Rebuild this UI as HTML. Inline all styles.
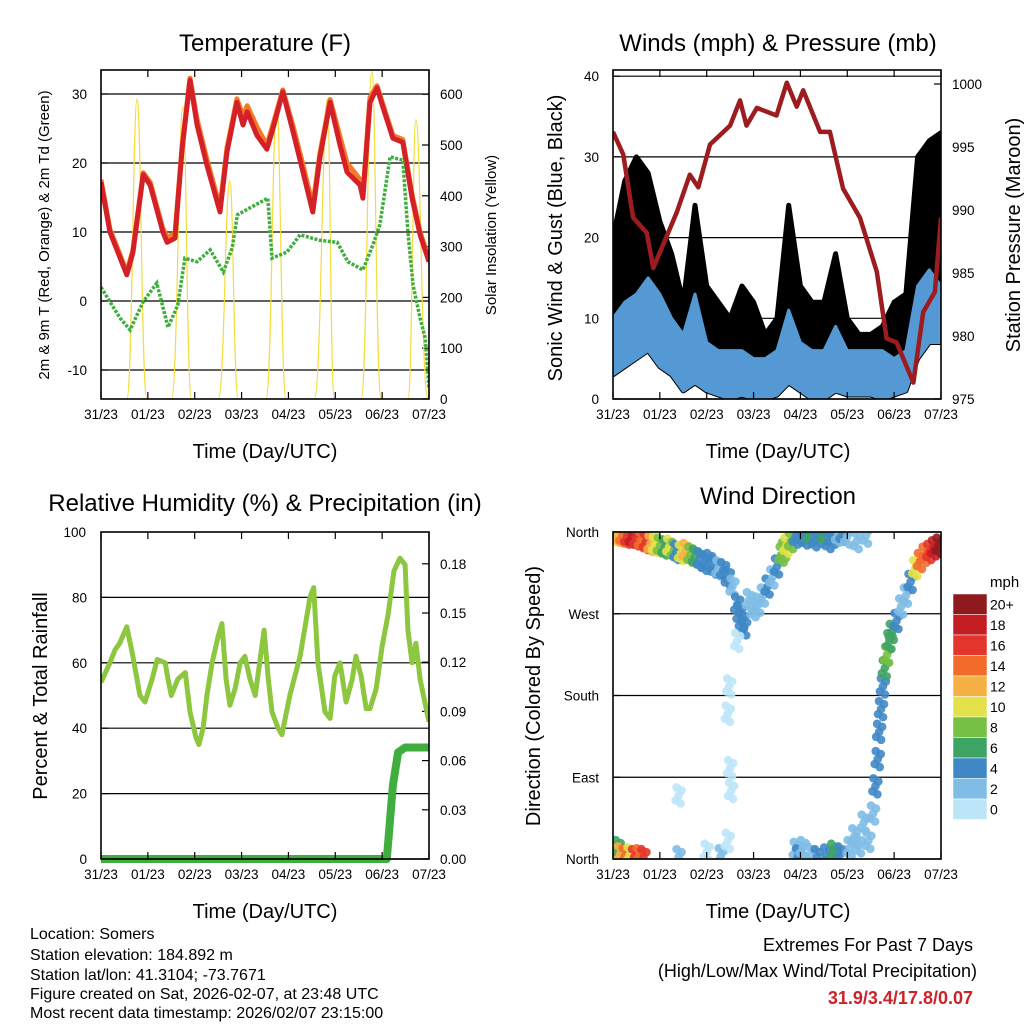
<!DOCTYPE html>
<html><head><meta charset="utf-8"><style>
html,body{margin:0;padding:0;background:#fff}
svg{display:block;font-family:"Liberation Sans",sans-serif}
</style></head><body>
<svg id="c" width="1024" height="1024" viewBox="0 0 1024 1024">
<rect x="0" y="0" width="1024" height="1024" fill="#fff"/>
<g id="plots"></g>
<text x="265" y="51" font-size="24" text-anchor="middle">Temperature (F)</text>
<text x="778" y="51" font-size="24" text-anchor="middle">Winds (mph) &amp; Pressure (mb)</text>
<text x="265" y="511" font-size="24" text-anchor="middle">Relative Humidity (%) &amp; Precipitation (in)</text>
<text x="778" y="504" font-size="24" text-anchor="middle">Wind Direction</text>
<text x="265" y="458" font-size="20" text-anchor="middle">Time (Day/UTC)</text>
<text x="778" y="458" font-size="20" text-anchor="middle">Time (Day/UTC)</text>
<text x="265" y="918" font-size="20" text-anchor="middle">Time (Day/UTC)</text>
<text x="778" y="918" font-size="20" text-anchor="middle">Time (Day/UTC)</text>
<text transform="translate(49,235) rotate(-90)" font-size="15" text-anchor="middle">2m &amp; 9m T (Red, Orange) &amp; 2m Td (Green)</text>
<text transform="translate(496,235) rotate(-90)" font-size="15" text-anchor="middle">Solar Insolation (Yellow)</text>
<text transform="translate(562,238) rotate(-90)" font-size="20" text-anchor="middle">Sonic Wind &amp; Gust (Blue, Black)</text>
<text transform="translate(1020,235) rotate(-90)" font-size="20" text-anchor="middle">Station Pressure (Maroon)</text>
<text transform="translate(47,696) rotate(-90)" font-size="20" text-anchor="middle">Percent &amp; Total Rainfall</text>
<text transform="translate(540,696) rotate(-90)" font-size="20" text-anchor="middle">Direction (Colored By Speed)</text>
<text x="990" y="587" font-size="15" text-anchor="start">mph</text>
<g font-size="16">
<text x="30" y="939">Location: Somers</text>
<text x="30" y="960">Station elevation: 184.892 m</text>
<text x="30" y="980">Station lat/lon: 41.3104; -73.7671</text>
<text x="30" y="999">Figure created on Sat, 2026-02-07, at 23:48 UTC</text>
<text x="30" y="1018">Most recent data timestamp: 2026/02/07 23:15:00</text>
</g>
<text x="973" y="951" font-size="18" text-anchor="end">Extremes For Past 7 Days</text>
<text x="977" y="977" font-size="18" text-anchor="end">(High/Low/Max Wind/Total Precipitation)</text>
<text x="973" y="1004" font-size="18" font-weight="bold" fill="#cc2229" text-anchor="end">31.9/3.4/17.8/0.07</text>
</svg>
<script>
const dayLabels=["31/23","01/23","02/23","03/23","04/23","05/23","06/23","07/23"];
// Temperature
const tTime=[0,0.19,0.55,0.68,0.90,1.05,1.32,1.41,1.58,1.73,1.90,2.05,2.26,2.54,2.69,2.90,3.03,3.12,3.33,3.54,3.67,3.88,4.10,4.31,4.52,4.67,4.89,5.10,5.25,5.53,5.59,5.74,5.89,6.02,6.23,6.44,6.64,6.81,7.0];
const tRed=[17.2,10,3.8,7,18.3,16.8,10,8.5,9.1,22,32,25.5,19.7,12.9,21.6,28.8,25.5,27.4,24,22,25,30.3,24.5,18.7,12.9,20.7,28.8,22.6,18.7,16.8,14.9,28.8,30.9,28,23.6,23,14.9,9.6,5.7];
const tOrange=[17.6,10.4,4.2,7.4,18.6,17.2,10.5,9.2,9.8,22.5,32.3,26.3,20.5,13.6,22.2,29.3,26.8,28.3,25.2,22.6,25.6,30.6,25.3,19.7,13.8,21.3,29.2,23.8,20,17.6,15.6,29.5,31.2,28.4,24,23.4,15.4,10,6];
const dTime=[0,0.19,0.41,0.62,0.90,1.19,1.43,1.64,1.79,2.05,2.33,2.61,2.80,2.91,3.18,3.56,3.65,3.97,4.25,4.67,5.04,5.27,5.59,5.80,5.95,6.17,6.44,6.55,6.66,6.81,6.92,7.0];
const dewVals=[2.0,-0.1,-2.5,-4.2,-0.1,2.6,-3.8,-0.6,6.2,5.7,7.4,4.2,7.7,12.5,13.5,14.9,6.2,7.1,9.6,8.8,8.5,5.7,4.5,8.1,11,20.9,20.4,10,2.3,-2.5,-5.4,-12.6];
const solarStart=[0.55,1.5,2.5,3.52,4.55,5.55,6.55];
const solarPeakT=[0.77,1.75,2.75,3.75,4.83,5.78,6.72];
const solarPeak=[590,575,430,580,590,645,550];
// Winds
const wTime=[0,0.25,0.5,0.75,1,1.25,1.5,1.75,2,2.25,2.5,2.75,3,3.25,3.5,3.75,4,4.25,4.5,4.75,5,5.25,5.5,5.75,6,6.25,6.5,6.75,7];
const gustTop=[20,27,30,28,22,18,12,24,14,12,10,14,12,8,10,24,14,12,12,18,10,8,8,9,12,13,30,32,33];
const blueHi=[10,12,13,15,13,10,8,13,7,6,6,6,5,5,6,11,7,6,6,9,6,6,6,6,5,6,14,16,14];
const blueLo=[3,4,5,6,4,3,1,2,1,0.5,0,0.5,0,0,0.5,2,1,0,0,1,0.5,0.5,0.5,0,0.5,1,5,7,7];
const pTime=[0,0.22,0.43,0.72,0.86,1.36,1.64,1.82,2.07,2.5,2.71,2.85,3.07,3.49,3.71,3.92,4.06,4.42,4.63,4.91,5.27,5.63,5.84,6.05,6.41,6.62,6.87,7.0];
const pVals=[996.2,994.4,989.4,988.2,985.4,989.8,992.8,991.8,995.2,996.7,998.7,996.7,998.1,997.5,1000.1,998.2,999.5,996.2,996.2,991.7,989.4,985.1,979.8,979.5,976.3,981.9,983.5,989.4];
// RH & rain
const rhTime=[0,0.19,0.3,0.4,0.55,0.68,0.83,0.94,1.09,1.20,1.37,1.43,1.50,1.64,1.80,1.90,2.03,2.09,2.18,2.26,2.37,2.50,2.58,2.67,2.75,2.86,2.97,3.07,3.18,3.29,3.48,3.57,3.65,3.78,3.86,4.03,4.25,4.46,4.54,4.63,4.78,4.89,4.99,5.10,5.23,5.36,5.44,5.55,5.66,5.74,5.87,6.0,6.13,6.25,6.38,6.49,6.55,6.64,6.72,6.81,6.91,7.0];
const rhVals=[54,60,64,66,71,62,50,48,55,61,60,55,50,55,57,45,37,35,40,50,60,68,72,55,47,52,60,62,55,50,70,55,45,40,38,50,62,80,83,60,45,43,56,60,48,55,62,56,46,46,52,65,75,88,92,90,70,60,66,55,48,42];
const rainTime=[0,6.1,6.23,6.34,6.49,7.0];
const rainVals=[0,0,0.045,0.065,0.068,0.068];
// Wind direction scatter
const wdTime=[0.0,0.1,0.2,0.3,0.4,0.5,0.6,0.7,0.8,0.9,1.0,1.1,1.2,1.3,1.35,1.45,1.55,1.65,1.75,1.85,1.95,2.05,2.15,2.25,2.35,2.45,2.55,2.65,2.7,2.75,2.8,2.9,3.0,3.1,3.2,3.3,3.4,3.5,3.6,3.65,3.7,3.8,3.9,4.0,4.1,4.2,4.3,4.4,4.5,4.6,4.7,4.8,4.9,5.0,5.2,5.4,2.45,2.48,2.5,2.52,1.4,2.65,0.0,0.1,0.15,0.25,0.35,0.45,0.55,0.65,1.4,2.0,2.3,2.45,3.9,3.95,4.05,4.2,4.35,4.55,4.7,4.75,4.85,5.05,5.15,5.25,5.35,5.45,5.55,5.6,5.65,5.68,5.72,5.76,5.8,5.85,5.9,5.95,6.05,6.15,6.25,6.35,6.45,6.55,6.65,6.75,6.85,6.95];
const wdDir=[358,357,356,355,355,353,351,349,347,346,345,343,344,340,338,337,339,335,333,330,326,328,322,320,318,310,300,280,270,262,255,285,275,280,290,300,310,322,335,340,345,350,355,357,354,358,352,356,358,350,355,357,358,355,350,356,160,190,100,75,70,240,8,12,5,3,4,2,3,2,2,8,3,20,10,3,12,5,2,4,8,2,5,12,25,15,40,20,50,80,110,140,165,190,210,225,240,250,262,278,290,305,320,328,335,338,342,345];
const wdSpd=[10,12,14,16,18,16,14,16,12,10,8,6,10,8,4,10,12,8,6,4,4,4,4,2,4,4,2,4,4,4,4,2,2,2,2,4,2,4,8,8,10,8,4,4,4,6,4,4,6,4,4,2,4,2,2,2,0,0,0,0,0,0,10,6,12,14,10,16,14,16,2,0,2,0,2,4,2,2,4,4,6,6,4,2,2,2,2,2,2,4,4,4,4,4,6,8,6,6,4,2,2,4,10,14,14,16,18,20];
const cbLabels=["20+","18","16","14","12","10","8","6","4","2","0"];
const cbColors=["#8f1a1d","#c41e24","#e3352b","#f26b2b","#f7b043","#e4e24a","#76c043","#3ea463","#3f88c5","#7fbde6","#bde5f8"];

const NS="http://www.w3.org/2000/svg";
const root=document.getElementById('plots');
function mk(tag,at,parent){const e=document.createElementNS(NS,tag);for(const k in at)e.setAttribute(k,at[k]);(parent||root).appendChild(e);return e;}
function ptsStr(xs,ys){return xs.map((v,i)=>v.toFixed(1)+","+ys[i].toFixed(1)).join(" ");}

function frame(P,name){
  for(let d=0;d<=7;d++){
    const x=P.x0+d*(P.x1-P.x0)/7;
    const t1=mk('line',{x1:x,x2:x,y1:P.y1,y2:P.y1-7,stroke:'#000','stroke-width':1.2});
    
    
    const t2=mk('line',{x1:x,x2:x,y1:P.y0,y2:P.y0+7,stroke:'#000','stroke-width':1.2});
    
    
    const lb=mk('text',{x:x,y:P.y1+20,'font-size':13.5,'text-anchor':'middle'});
    
    
    lb.textContent=dayLabels[d];
  }
  const r=mk('rect',{x:P.x0,y:P.y0,width:P.x1-P.x0,height:P.y1-P.y0,fill:'none',stroke:'#000','stroke-width':1.6});
  
  
}
function yAxis(P,vals,labels,scale,side,name,grid){
  vals.forEach((v,i)=>{
    const y=scale(v);
    if(grid){
      const g=mk('line',{x1:P.x0,x2:P.x1,y1:y,y2:y,stroke:'#000','stroke-width':1.2});
      
      
    }
    const x=side==='l'?P.x0:P.x1;
    const tk=mk('line',{x1:x,x2:side==='l'?x+7:x-7,y1:y,y2:y,stroke:'#000','stroke-width':1.2});
    
    
    const lb=mk('text',{x:side==='l'?P.x0-14:P.x1+11,y:y+5,'font-size':13.5,'text-anchor':side==='l'?'end':'start'});
    
    
    lb.textContent=labels[i];
  });
}
function clip(id,P){const cp=mk('clipPath',{id:id});mk('rect',{x:P.x0,y:P.y0,width:P.x1-P.x0,height:P.y1-P.y0},cp);return 'url(#'+id+')';}

// ---------- Panel 1 Temperature ----------
{
const P={x0:101,x1:429,y0:70,y1:399};
const X=t=>P.x0+t/7*(P.x1-P.x0);
const Y=v=>301-v*6.9;
const S=v=>399-v*0.508;
const cl=clip('c1',P);
yAxis(P,[-10,0,10,20,30],["-10","0","10","20","30"],Y,'l','temp',true);
yAxis(P,[0,100,200,300,400,500,600],["0","100","200","300","400","500","600"],S,'r','solar',false);
const g=mk('g',{'clip-path':cl});
solarStart.forEach((s,i)=>{
  const e=solarStart[i]+0.43;
  const p=solarPeakT[i];
  const xs=X(s),xp=X(p),xe=X(e),y0=S(0),yp=S(solarPeak[i]);
  const d='M'+xs+','+y0+' C'+(xs+(xp-xs)*0.55)+','+y0+' '+(xs+(xp-xs)*0.6)+','+yp+' '+xp+','+yp+' C'+(xp+(xe-xp)*0.4)+','+yp+' '+(xp+(xe-xp)*0.45)+','+y0+' '+xe+','+y0;
  const l=mk('path',{d:d,fill:'none',stroke:'#f5dc3c','stroke-width':1.2},g);
  
  
});
const o=mk('polyline',{points:ptsStr(tTime.map(X),tOrange.map(Y)),fill:'none',stroke:'#f47a26','stroke-width':5,'stroke-linejoin':'round'},g);


const r=mk('polyline',{points:ptsStr(tTime.map(X),tRed.map(Y)),fill:'none',stroke:'#d42027','stroke-width':5,'stroke-linejoin':'round'},g);


const d=mk('polyline',{points:ptsStr(dTime.map(X),dewVals.map(Y)),fill:'none',stroke:'#3fae3f','stroke-width':3.5,'stroke-dasharray':'3 1.5'},g);


frame(P,'temp');
}
// ---------- Panel 2 Winds ----------
{
const P={x0:613,x1:941,y0:70,y1:399};
const X=t=>P.x0+t/7*(P.x1-P.x0);
const Y=v=>399-v*8.07;
const Pm=v=>399-(v-975)*12.6;
const cl=clip('c2',P);
yAxis(P,[0,10,20,30,40],["0","10","20","30","40"],Y,'l','wind',true);
yAxis(P,[975,980,985,990,995,1000],["975","980","985","990","995","1000"],Pm,'r','pressure',false);
const g=mk('g',{'clip-path':cl});
const gx=wTime.map(X).concat(wTime.map(X).reverse());
const gy=gustTop.map(Y).concat(blueLo.map(Y).reverse());
const ga=mk('polygon',{points:ptsStr(gx,gy),fill:'#000',stroke:'#000','stroke-width':5,'stroke-linejoin':'round'},g);


const by=blueHi.map(Y).concat(blueLo.map(Y).reverse());
const ba=mk('polygon',{points:ptsStr(gx,by),fill:'#5599d4',stroke:'#5599d4','stroke-width':3,'stroke-linejoin':'round'},g);


const pl=mk('polyline',{points:ptsStr(pTime.map(X),pVals.map(Pm)),fill:'none',stroke:'#9c1c1f','stroke-width':4.5,'stroke-linejoin':'round'},g);


frame(P,'wind');
}
// ---------- Panel 3 RH ----------
{
const P={x0:101,x1:429,y0:532,y1:859};
const X=t=>P.x0+t/7*(P.x1-P.x0);
const Y=v=>859-v*3.27;
const R=v=>859-v/0.03*49.2;
const cl=clip('c3',P);
yAxis(P,[0,20,40,60,80],["0","20","40","60","80"],Y,'l','rh',true);
const top=mk('text',{x:86,y:537,'font-size':13.5,'text-anchor':'end'});


top.textContent="100";
yAxis(P,[0,0.03,0.06,0.09,0.12,0.15,0.18],["0.00","0.03","0.06","0.09","0.12","0.15","0.18"],R,'r','rain',false);
const g=mk('g',{'clip-path':cl});
const rh=mk('polyline',{points:ptsStr(rhTime.map(X),rhVals.map(Y)),fill:'none',stroke:'#8dc63f','stroke-width':5,'stroke-linejoin':'round'},g);


const rn=mk('polyline',{points:ptsStr(rainTime.map(X),rainVals.map(R)),fill:'none',stroke:'#3fae3f','stroke-width':8,'stroke-linejoin':'round'},root);


frame(P,'rh');
}
// ---------- Panel 4 Wind direction ----------
{
const P={x0:613,x1:941,y0:532,y1:859};
const X=t=>P.x0+t/7*(P.x1-P.x0);
const Y=v=>859-v/360*327;
const cl=clip('c4',P);
yAxis(P,[0,90,180,270,360],["North","East","South","West","North"],Y,'l','direction',true);
const g=mk('g',{'clip-path':cl});
const col=s=>cbColors[10-Math.min(10,Math.round(s/2))];
const offs=[[0,0],[-3,5],[3,-5],[2,8],[-2,-8]];
wdTime.forEach((t,i)=>{
  offs.forEach(o=>{
    const c=mk('circle',{cx:X(t)+o[0],cy:Y(wdDir[i])+o[1],r:4.3,fill:col(wdSpd[i]),'fill-opacity':0.9},g);
    
    
  });
});
frame(P,'direction');
cbLabels.forEach((lab,i)=>{
  const y=594+i*20.5;
  const b=mk('rect',{x:953,y:y,width:34,height:20.5,fill:cbColors[i],stroke:'#fff','stroke-width':0.5});
  
  
  const t=mk('text',{x:990,y:y+15.5,'font-size':14});
  
  
  t.textContent=lab;
});
}
</script>
</body></html>
